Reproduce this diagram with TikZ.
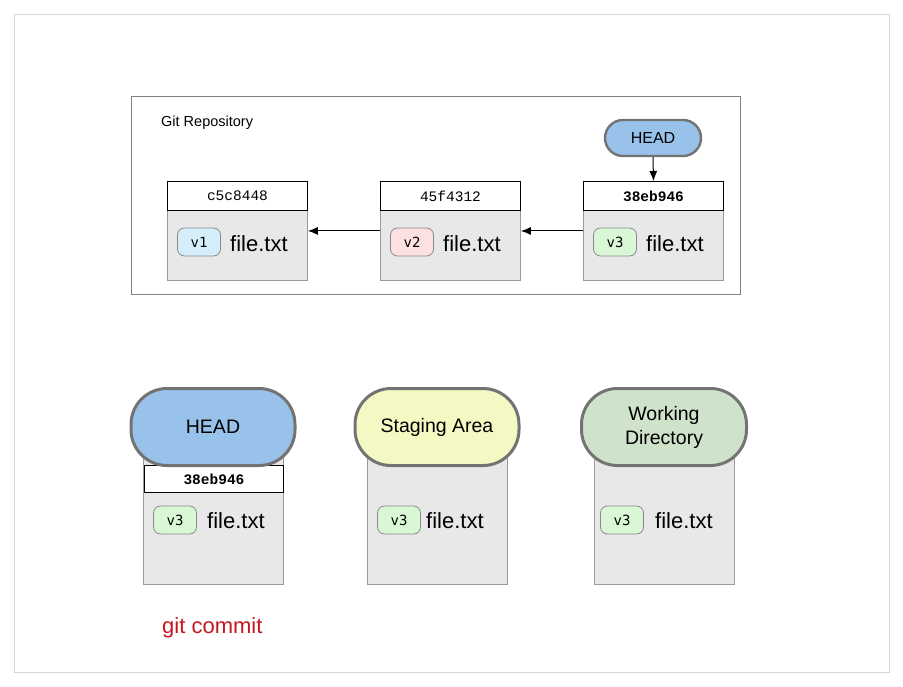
\documentclass[tikz,border=0pt]{standalone}
\usepackage{fontspec}
\setmainfont{Liberation Sans}
\newfontfamily\hashfont{Liberation Mono}
\newfontfamily\vfont{DejaVu Sans Mono}
\usetikzlibrary{arrows.meta}
\definecolor{headblue}{HTML}{99C2EB}
\definecolor{stageyel}{HTML}{F4F8C2}
\definecolor{workgrn}{HTML}{CFE3CB}
\definecolor{bodygray}{HTML}{E8E8E8}
\definecolor{bodyline}{HTML}{9A9A9A}
\definecolor{pillline}{HTML}{737373}
\definecolor{repoline}{HTML}{808080}
\definecolor{frameline}{HTML}{D6D6D6}
\definecolor{vone}{HTML}{D6EEFA}
\definecolor{vtwo}{HTML}{FDE1E1}
\definecolor{vthree}{HTML}{D9F7D6}
\definecolor{vline}{HTML}{8A8A8A}
\definecolor{cmdred}{HTML}{C8161D}
\begin{document}
\begin{tikzpicture}[x=1pt,y=-1pt,
  bodybox/.style={draw=bodyline, fill=bodygray, line width=0.9pt, anchor=north west, inner sep=0pt, minimum width=140pt},
  hashbox/.style={draw=black, fill=white, line width=1pt, anchor=north west, inner sep=0pt, minimum width=140pt, minimum height=29pt, font=\hashfont\fontsize{14.5}{16}\selectfont},
  vpill/.style={draw=vline, line width=0.8pt, rounded corners=7pt, minimum width=43pt, minimum height=28pt, inner sep=0pt, font=\vfont\fontsize{14}{16}\selectfont},
  filelbl/.style={anchor=base west, inner sep=0pt, font=\fontsize{22}{24}\selectfont},
  bigpill/.style={draw=pillline, line width=3pt, rounded corners=36pt, minimum width=162pt, minimum height=77pt, inner sep=0pt, align=center, font=\fontsize{19.5}{24}\selectfont},
  smallpill/.style={draw=pillline, line width=2.4pt, rounded corners=18pt, minimum width=96pt, minimum height=36pt, inner sep=0pt, font=\fontsize{16}{18}\selectfont},
  link/.style={line width=1pt, -{Latex[length=10pt,width=8pt]}}
]
\useasboundingbox (0,0) rectangle (903,686);
\draw[frameline, line width=1pt] (14,14) rectangle (889,672);

% repository
\node[draw=repoline, line width=1pt, minimum width=609pt, minimum height=198pt, anchor=north west, inner sep=0pt] (repo) at (131,96) {};
\node[anchor=base west, inner sep=0pt, font=\fontsize{14.5}{16}\selectfont] (repolbl) at (161,126) {Git Repository};

% commit 1
\node[bodybox, minimum height=99pt] (b1) at (167,181) {};
\node[hashbox] (h1) at (167,181) {c5c8448};
\node[vpill, fill=vone] (p1) at (199,242) {v1};
\node[filelbl] (f1) at (230,251) {file.txt};

% commit 2
\node[bodybox, minimum height=99pt] (b2) at (380,181) {};
\node[hashbox] (h2) at (380,181) {45f4312};
\node[vpill, fill=vtwo] (p2) at (412,242) {v2};
\node[filelbl] (f2) at (443,251) {file.txt};

% commit 3
\node[bodybox, minimum height=99pt] (b3) at (583,181) {};
\node[hashbox, font=\hashfont\bfseries\fontsize{14.5}{16}\selectfont] (h3) at (583,181) {38eb946};
\node[vpill, fill=vthree] (p3) at (615,242) {v3};
\node[filelbl] (f3) at (646,251) {file.txt};

\draw[link] (b2.west) -- (b1.east);
\draw[link] (b3.west) -- (b2.east);

% small HEAD
\node[smallpill, fill=headblue] (shead) at (653,138) {HEAD};
\draw[link] (shead.south) -- (h3.north);

% bottom: HEAD
\node[bodybox, minimum height=144pt] (bb1) at (143,440) {};
\node[hashbox, minimum height=27pt, minimum width=139pt, font=\hashfont\bfseries\fontsize{14.5}{16}\selectfont] (bh1) at (144,465) {38eb946};
\node[bigpill, fill=headblue, minimum width=164pt] (bhead) at (213,427) {HEAD};
\node[vpill, fill=vthree] (bp1) at (175,520) {v3};
\node[filelbl] (bf1) at (207,528) {file.txt};

% bottom: Staging Area
\node[bodybox, minimum height=144pt] (bb2) at (367,440) {};
\node[bigpill, fill=stageyel, minimum width=164pt] (stage) at (437,427) {Staging Area};
\node[vpill, fill=vthree] (bp2) at (399,520) {v3};
\node[filelbl] (bf2) at (426,528) {file.txt};

% bottom: Working Directory
\node[bodybox, minimum height=144pt] (bb3) at (594,440) {};
\node[bigpill, fill=workgrn, minimum width=165pt] (work) at (664,427) {Working\\Directory};
\node[vpill, fill=vthree] (bp3) at (622,520) {v3};
\node[filelbl] (bf3) at (655,528) {file.txt};

% command
\node[anchor=base west, inner sep=0pt, text=cmdred, font=\fontsize{22}{24}\selectfont] (cmd) at (162,633) {git commit};
\end{tikzpicture}
\end{document}
